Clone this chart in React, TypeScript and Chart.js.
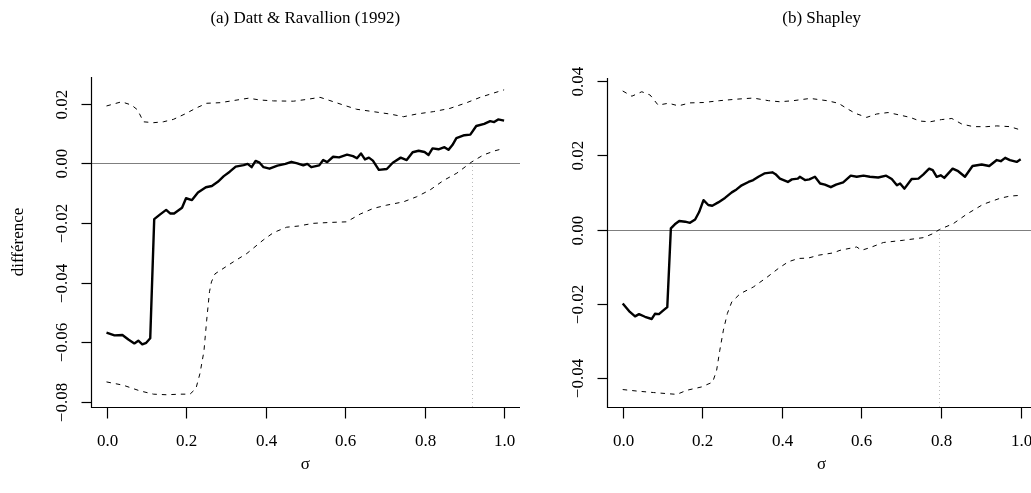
import React, { useEffect, useRef } from "react";
import { Chart, registerables } from "chart.js";

Chart.register(...registerables);

// ---------- data ----------
const xTicks = [0, 0.2, 0.4, 0.6, 0.8, 1.0];
const xTickLabels = ["0.0", "0.2", "0.4", "0.6", "0.8", "1.0"];

const aYTicks = [-0.08, -0.06, -0.04, -0.02, 0, 0.02];
const aYTickLabels = ["\u22120.08", "\u22120.06", "\u22120.04", "\u22120.02", "0.00", "0.02"];
const bYTicks = [-0.04, -0.02, 0, 0.02, 0.04];
const bYTickLabels = ["\u22120.04", "\u22120.02", "0.00", "0.02", "0.04"];

// Panel (a) Datt & Ravallion (1992): estimate
const aEstSigma = [0, 0.02, 0.04, 0.055, 0.07, 0.08, 0.09, 0.1, 0.11, 0.12, 0.135, 0.15, 0.16, 0.17, 0.19, 0.2, 0.215, 0.23, 0.25, 0.265, 0.28, 0.295, 0.31, 0.325, 0.345, 0.355, 0.365, 0.375, 0.385, 0.395, 0.41, 0.43, 0.45, 0.465, 0.48, 0.495, 0.505, 0.515, 0.535, 0.545, 0.555, 0.57, 0.585, 0.605, 0.62, 0.63, 0.64, 0.65, 0.66, 0.67, 0.685, 0.705, 0.72, 0.74, 0.755, 0.77, 0.785, 0.8, 0.81, 0.82, 0.835, 0.85, 0.86, 0.87, 0.88, 0.9, 0.915, 0.93, 0.95, 0.965, 0.975, 0.985, 1.0];
const aEst = [-0.0567, -0.0576, -0.0575, -0.059, -0.0603, -0.0594, -0.0606, -0.0601, -0.0586, -0.0187, -0.0171, -0.0156, -0.0168, -0.0168, -0.0149, -0.0117, -0.0123, -0.0098, -0.008, -0.0076, -0.0062, -0.0043, -0.0028, -0.0011, -0.0006, -0.0002, -0.0013, 0.0008, 0.0002, -0.0013, -0.0018, -0.0008, -0.0002, 0.0005, 0.0, -0.0007, -0.0002, -0.0013, -0.0007, 0.0011, 0.0004, 0.0022, 0.002, 0.0029, 0.0024, 0.0017, 0.0033, 0.0013, 0.0019, 0.0009, -0.0022, -0.0019, 0.0002, 0.0019, 0.0011, 0.0037, 0.0042, 0.0038, 0.0028, 0.005, 0.0047, 0.0054, 0.0045, 0.0061, 0.0084, 0.0094, 0.0096, 0.0125, 0.0132, 0.0141, 0.0138, 0.0147, 0.0143];
// Panel (a): upper bound
const aUpSigma = [0, 0.038, 0.063, 0.078, 0.093, 0.118, 0.143, 0.168, 0.197, 0.227, 0.252, 0.286, 0.319, 0.357, 0.386, 0.42, 0.47, 0.504, 0.537, 0.562, 0.596, 0.629, 0.671, 0.713, 0.747, 0.78, 0.822, 0.864, 0.906, 0.94, 0.973, 1.0];
const aUp = [0.0192, 0.0206, 0.0195, 0.0179, 0.0139, 0.0136, 0.0139, 0.0147, 0.0165, 0.0186, 0.0201, 0.0203, 0.021, 0.0218, 0.0212, 0.0209, 0.0208, 0.0214, 0.0221, 0.021, 0.0195, 0.0181, 0.0173, 0.0165, 0.0156, 0.0165, 0.0173, 0.0184, 0.0203, 0.0221, 0.0235, 0.0246];
// Panel (a): lower bound
const aLoSigma = [0, 0.042, 0.084, 0.118, 0.151, 0.185, 0.21, 0.225, 0.235, 0.245, 0.252, 0.259, 0.264, 0.273, 0.319, 0.353, 0.394, 0.42, 0.453, 0.483, 0.52, 0.562, 0.604, 0.638, 0.671, 0.705, 0.747, 0.78, 0.814, 0.847, 0.881, 0.919, 0.948, 0.977, 1.0];
const aLo = [-0.0732, -0.0743, -0.0762, -0.0773, -0.0775, -0.0773, -0.0773, -0.0754, -0.0704, -0.063, -0.0525, -0.043, -0.0397, -0.037, -0.033, -0.0302, -0.0257, -0.0232, -0.0214, -0.021, -0.0201, -0.0198, -0.0196, -0.017, -0.0151, -0.014, -0.0129, -0.0112, -0.0089, -0.0058, -0.0033, 0.0005, 0.0028, 0.0042, 0.005];
const aCross = 0.919;

// Panel (b) Shapley: estimate
const bEstSigma = [0, 0.018, 0.031, 0.041, 0.056, 0.073, 0.081, 0.091, 0.102, 0.112, 0.121, 0.131, 0.142, 0.157, 0.169, 0.182, 0.192, 0.203, 0.215, 0.225, 0.24, 0.257, 0.274, 0.286, 0.299, 0.316, 0.328, 0.341, 0.356, 0.376, 0.384, 0.395, 0.415, 0.425, 0.44, 0.445, 0.458, 0.469, 0.483, 0.496, 0.508, 0.523, 0.536, 0.554, 0.573, 0.588, 0.605, 0.621, 0.642, 0.662, 0.676, 0.689, 0.697, 0.708, 0.726, 0.743, 0.755, 0.77, 0.779, 0.789, 0.799, 0.808, 0.829, 0.843, 0.86, 0.879, 0.902, 0.921, 0.94, 0.95, 0.961, 0.973, 0.99, 1.0];
const bEst = [-0.0199, -0.0222, -0.0234, -0.0228, -0.0235, -0.0241, -0.0227, -0.0228, -0.0218, -0.0209, 0.0003, 0.0014, 0.0023, 0.0021, 0.0018, 0.0027, 0.0047, 0.0079, 0.0066, 0.0064, 0.0073, 0.0085, 0.01, 0.0108, 0.0119, 0.0128, 0.0133, 0.0142, 0.0151, 0.0154, 0.0149, 0.0137, 0.0128, 0.0135, 0.0137, 0.0142, 0.0133, 0.0135, 0.0142, 0.0124, 0.0121, 0.0114, 0.0121, 0.0127, 0.0145, 0.0142, 0.0145, 0.0142, 0.014, 0.0145, 0.0136, 0.0119, 0.0124, 0.011, 0.0136, 0.0137, 0.0148, 0.0164, 0.016, 0.0142, 0.0146, 0.0139, 0.0164, 0.0157, 0.0142, 0.0171, 0.0175, 0.0171, 0.0187, 0.0184, 0.0193, 0.0187, 0.0182, 0.0189];
// Panel (b): upper bound
const bUpSigma = [0, 0.023, 0.048, 0.069, 0.089, 0.115, 0.14, 0.169, 0.203, 0.244, 0.286, 0.328, 0.366, 0.395, 0.429, 0.471, 0.513, 0.542, 0.563, 0.584, 0.613, 0.638, 0.667, 0.697, 0.722, 0.747, 0.772, 0.801, 0.827, 0.852, 0.881, 0.915, 0.94, 0.973, 1.0];
const bUp = [0.0373, 0.0359, 0.0371, 0.0362, 0.0335, 0.034, 0.0333, 0.0341, 0.0342, 0.0347, 0.0351, 0.0354, 0.0347, 0.0344, 0.0347, 0.0353, 0.0347, 0.034, 0.0326, 0.0313, 0.0302, 0.0311, 0.0315, 0.0308, 0.0302, 0.0292, 0.029, 0.0296, 0.0299, 0.0284, 0.0277, 0.0277, 0.0279, 0.0277, 0.0268];
// Panel (b): lower bound
const bLoSigma = [0, 0.035, 0.077, 0.111, 0.136, 0.161, 0.198, 0.226, 0.236, 0.244, 0.253, 0.263, 0.274, 0.295, 0.328, 0.362, 0.391, 0.416, 0.441, 0.466, 0.493, 0.529, 0.546, 0.588, 0.6, 0.621, 0.655, 0.705, 0.755, 0.78, 0.796, 0.831, 0.864, 0.906, 0.948, 0.973, 1.0];
const bLo = [-0.0431, -0.0435, -0.0439, -0.0442, -0.0444, -0.0433, -0.0424, -0.0411, -0.0379, -0.0325, -0.0271, -0.0226, -0.0195, -0.0173, -0.0155, -0.0129, -0.0105, -0.0087, -0.0078, -0.0077, -0.0069, -0.0063, -0.0056, -0.0047, -0.0056, -0.0049, -0.0035, -0.0029, -0.0022, -0.0011, 0.0, 0.0016, 0.0041, 0.0068, 0.0084, 0.009, 0.0092];
const bCross = 0.796;

// ---------- helpers ----------
const FONT = '"Liberation Serif", "Times New Roman", serif';

function pts(xs: number[], ys: number[]) {
  return xs.map((x, i) => ({ x, y: ys[i] }));
}

type PanelCfg = {
  canvasLeft: number;
  canvasWidth: number;
  area: { left: number; right: number; top: number; bottom: number };
  yMin: number;
  yMax: number;
  yTicks: number[];
  yTickLabels: string[];
  title: string;
  ylab?: string;
  cross: number;
  est: { x: number; y: number }[];
  up: { x: number; y: number }[];
  lo: { x: number; y: number }[];
};

const H = 493;

function decorPlugin(cfg: PanelCfg) {
  return {
    id: "rdecor",
    beforeDatasetsDraw(chart: any) {
      const { ctx, chartArea: ca, scales } = chart;
      const x = scales.x;
      const y = scales.y;
      const y0 = Math.round(y.getPixelForValue(0)) + 0.5;
      ctx.save();
      ctx.strokeStyle = "#7f7f7f";
      ctx.lineWidth = 1;
      ctx.beginPath();
      ctx.moveTo(ca.left, y0);
      ctx.lineTo(ca.right, y0);
      ctx.stroke();
      const xv = Math.round(x.getPixelForValue(cfg.cross)) + 0.5;
      ctx.strokeStyle = "#bdbdbd";
      ctx.setLineDash([1, 3]);
      ctx.beginPath();
      ctx.moveTo(xv, ca.bottom);
      ctx.lineTo(xv, y0 + 1);
      ctx.stroke();
      ctx.restore();
    },
    afterDraw(chart: any) {
      const { ctx, chartArea: ca, scales } = chart;
      const x = scales.x;
      const y = scales.y;
      const L = Math.round(ca.left) + 0.5;
      const B = Math.round(ca.bottom) + 0.5;
      ctx.save();
      ctx.strokeStyle = "#000";
      ctx.fillStyle = "#000";
      ctx.lineWidth = 1.2;
      // L-shaped box
      ctx.beginPath();
      ctx.moveTo(L, ca.top);
      ctx.lineTo(L, B);
      ctx.lineTo(ca.right, B);
      ctx.stroke();
      // x ticks
      ctx.font = `17px ${FONT}`;
      ctx.textAlign = "center";
      ctx.textBaseline = "alphabetic";
      xTicks.forEach((v, i) => {
        const px = Math.round(x.getPixelForValue(v)) + 0.5;
        ctx.beginPath();
        ctx.moveTo(px, B);
        ctx.lineTo(px, B + 11);
        ctx.stroke();
        ctx.fillText(xTickLabels[i], px, 446);
      });
      // y ticks
      cfg.yTicks.forEach((v, i) => {
        const py = Math.round(y.getPixelForValue(v)) + 0.5;
        ctx.beginPath();
        ctx.moveTo(L, py);
        ctx.lineTo(L - 10, py);
        ctx.stroke();
        ctx.save();
        ctx.translate(L - 25, py);
        ctx.rotate(-Math.PI / 2);
        ctx.fillText(cfg.yTickLabels[i], 0, 0);
        ctx.restore();
      });
      const cx = (ca.left + ca.right) / 2;
      // title
      ctx.font = `17px ${FONT}`;
      ctx.fillText(cfg.title, cx, 23);
      // x label
      ctx.fillText("\u03c3", cx, 469);
      // y label
      if (cfg.ylab) {
        ctx.save();
        ctx.translate(23, (ca.top + ca.bottom) / 2);
        ctx.rotate(-Math.PI / 2);
        ctx.fillText(cfg.ylab, 0, 0);
        ctx.restore();
      }
      ctx.restore();
    },
  };
}

function Panel({ cfg }: { cfg: PanelCfg }) {
  const ref = useRef<HTMLCanvasElement | null>(null);
  useEffect(() => {
    if (!ref.current) return;
    const a = cfg.area;
    const chart = new Chart(ref.current, {
      type: "line",
      data: {
        datasets: [
          {
            data: cfg.up,
            borderColor: "#000",
            borderWidth: 1,
            borderDash: [4.5, 5],
            pointRadius: 0,
            tension: 0,
          },
          {
            data: cfg.lo,
            borderColor: "#000",
            borderWidth: 1,
            borderDash: [4.5, 5],
            pointRadius: 0,
            tension: 0,
          },
          {
            data: cfg.est,
            borderColor: "#000",
            borderWidth: 2.4,
            pointRadius: 0,
            tension: 0,
          },
        ],
      },
      options: {
        animation: false,
        responsive: false,
        maintainAspectRatio: false,
        parsing: true,
        layout: {
          padding: {
            left: a.left - cfg.canvasLeft,
            right: cfg.canvasLeft + cfg.canvasWidth - a.right,
            top: a.top,
            bottom: H - a.bottom,
          },
        },
        plugins: {
          legend: { display: false },
          tooltip: { enabled: false },
          title: { display: false },
        },
        scales: {
          x: { type: "linear", min: -0.04, max: 1.04, display: false },
          y: { type: "linear", min: cfg.yMin, max: cfg.yMax, display: false },
        },
        elements: { line: { borderJoinStyle: "round", borderCapStyle: "butt" } },
      },
      plugins: [decorPlugin(cfg)],
    } as any);
    return () => chart.destroy();
  }, [cfg]);
  return (
    <canvas
      ref={ref}
      width={cfg.canvasWidth}
      height={H}
      style={{ position: "absolute", left: cfg.canvasLeft, top: 0, width: cfg.canvasWidth, height: H }}
    />
  );
}

const panelA: PanelCfg = {
  canvasLeft: 0,
  canvasWidth: 540,
  area: { left: 90.6, right: 520, top: 77, bottom: 407 },
  yMin: -0.0816,
  yMax: 0.0289,
  yTicks: aYTicks,
  yTickLabels: aYTickLabels,
  title: "(a) Datt & Ravallion (1992)",
  ylab: "diff\u00e9rence",
  cross: aCross,
  est: pts(aEstSigma, aEst),
  up: pts(aUpSigma, aUp),
  lo: pts(aLoSigma, aLo),
};

const panelB: PanelCfg = {
  canvasLeft: 515,
  canvasWidth: 540,
  area: { left: 606.8, right: 1036.6, top: 78, bottom: 407 },
  yMin: -0.0478,
  yMax: 0.0408,
  yTicks: bYTicks,
  yTickLabels: bYTickLabels,
  title: "(b) Shapley",
  cross: bCross,
  est: pts(bEstSigma, bEst),
  up: pts(bUpSigma, bUp),
  lo: pts(bLoSigma, bLo),
};

export default function App() {
  return (
    <div
      style={{
        position: "absolute",
        left: 0,
        top: 0,
        width: 1031,
        height: 493,
        overflow: "hidden",
        background: "#fff",
      }}
    >
      <Panel cfg={panelA} />
      <Panel cfg={panelB} />
    </div>
  );
}
